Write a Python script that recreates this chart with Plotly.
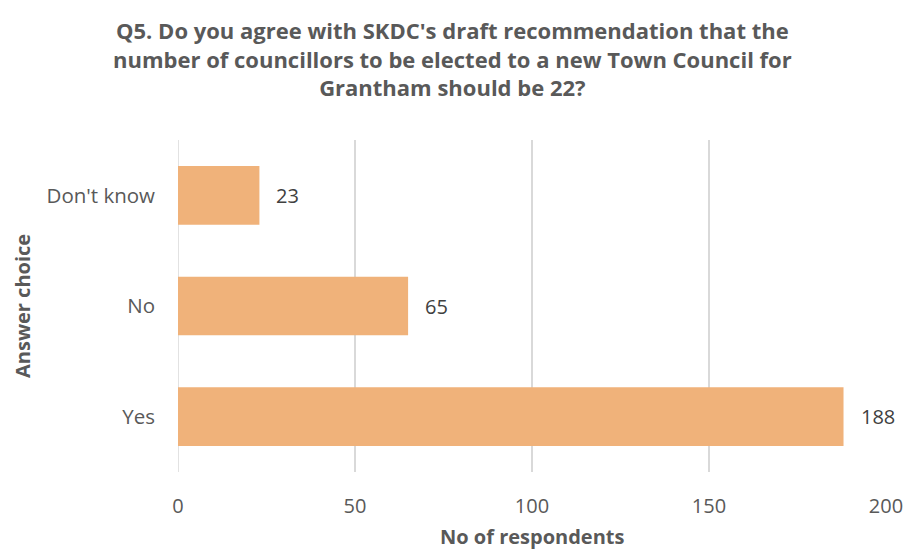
import plotly.graph_objects as go

categories = ["Yes", "No", "Don't know"]
values = [188, 65, 23]
x_ticks = [0, 50, 100, 150, 200]

FONT = "Open Sans"
GREY = "#595959"

fig = go.Figure()
fig.add_trace(go.Bar(
    y=categories, x=values, orientation="h",
    marker=dict(color="#F0B27A", line=dict(width=0)),
    width=0.53,
    hoverinfo="skip",
))
fig.update_layout(
    width=904, height=550,
    margin=dict(l=178, r=18, t=140, b=78),
    paper_bgcolor="white", plot_bgcolor="white",
    showlegend=False,
    font=dict(family=FONT, color=GREY),
)
fig.update_xaxes(
    range=[0, 200], tickvals=x_ticks, showgrid=True,
    gridcolor="#D9D9D9", gridwidth=1.5, zeroline=False,
    tickfont=dict(family=FONT, size=20, color=GREY),
    ticklabelstandoff=20, showline=False, automargin=False,
)
fig.update_yaxes(
    showgrid=False, zeroline=False, showline=False,
    tickfont=dict(family=FONT, size=20.5, color=GREY),
    ticklabelstandoff=22, automargin=False,
)
fig.add_vline(x=0, line=dict(color="#D9D9D9", width=1.5), layer="below")

for c, v in zip(categories, values):
    fig.add_annotation(
        x=v, y=c, xref="x", yref="y", text=str(v), showarrow=False,
        xanchor="left", yanchor="middle", xshift=15,
        font=dict(family=FONT, size=20, color="#404040"),
    )

fig.add_annotation(
    text="<b>Q5. Do you agree with SKDC's draft recommendation that the<br>number of councillors to be elected to a new Town Council for<br>Grantham should be 22?</b>",
    xref="paper", yref="paper", x=0, xshift=274, y=1.0, yshift=82,
    xanchor="center", yanchor="middle",
    showarrow=False, align="center",
    font=dict(family=FONT, size=22, color=GREY),
)
fig.add_annotation(
    text="<b>No of respondents</b>", xref="paper", yref="paper",
    x=0.5, y=0, yshift=-64, xanchor="center", yanchor="middle", showarrow=False,
    font=dict(family=FONT, size=20, color=GREY),
)
fig.add_annotation(
    text="<b>Answer choice</b>", xref="paper", yref="paper",
    x=0, xshift=-156, y=0.5, xanchor="center", yanchor="middle", textangle=-90,
    showarrow=False, font=dict(family=FONT, size=20, color=GREY),
)
fig.write_html(
    "out.html",
    config={"displayModeBar": False},
    post_script="document.body.style.margin='0';document.body.style.overflow='hidden';",
)
